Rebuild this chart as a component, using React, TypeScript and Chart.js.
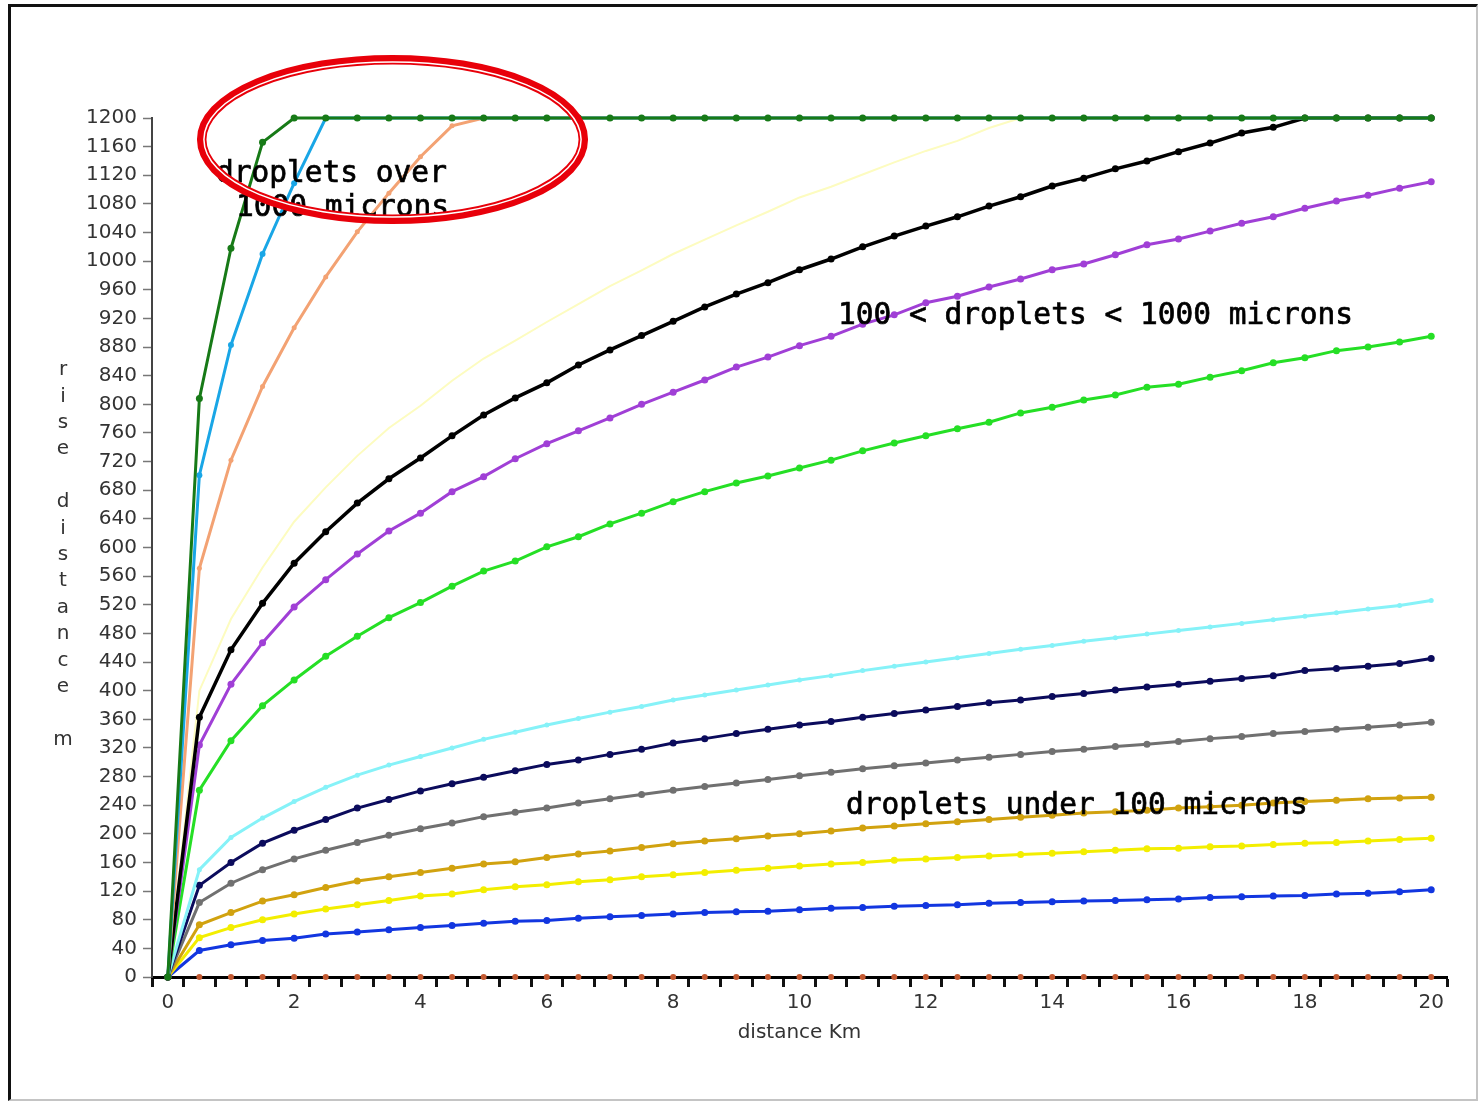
import React, { useEffect, useRef } from 'react';
import { Chart, registerables } from 'chart.js';

Chart.register(...registerables);

// distance along the x axis (km)
const distances = [
  0, 0.5, 1, 1.5, 2, 2.5, 3, 3.5, 4, 4.5, 5, 5.5, 6, 6.5, 7, 7.5, 8, 8.5, 9, 9.5, 10,
  10.5, 11, 11.5, 12, 12.5, 13, 13.5, 14, 14.5, 15, 15.5, 16, 16.5, 17, 17.5, 18, 18.5, 19, 19.5, 20,
];

const xLabelValues = [0, 2, 4, 6, 8, 10, 12, 14, 16, 18, 20];
const yTickValues = [
  0, 40, 80, 120, 160, 200, 240, 280, 320, 360, 400, 440, 480, 520, 560, 600, 640, 680, 720, 760,
  800, 840, 880, 920, 960, 1000, 1040, 1080, 1120, 1160, 1200,
];

// rise distance (m) per series
const darkGreen = [
  0, 808, 1018, 1166, 1200, 1200, 1200, 1200, 1200, 1200, 1200, 1200, 1200, 1200, 1200, 1200, 1200, 1200, 1200, 1200, 1200,
  1200, 1200, 1200, 1200, 1200, 1200, 1200, 1200, 1200, 1200, 1200, 1200, 1200, 1200, 1200, 1200, 1200, 1200, 1200, 1200,
];
const skyBlue = [
  0, 701, 883, 1010, 1109, 1200, 1200, 1200, 1200, 1200, 1200, 1200, 1200, 1200, 1200, 1200, 1200, 1200, 1200, 1200, 1200,
  1200, 1200, 1200, 1200, 1200, 1200, 1200, 1200, 1200, 1200, 1200, 1200, 1200, 1200, 1200, 1200, 1200, 1200, 1200, 1200,
];
const peach = [
  0, 571, 722, 825, 907, 978, 1041, 1095, 1146, 1189, 1200, 1200, 1200, 1200, 1200, 1200, 1200, 1200, 1200, 1200, 1200,
  1200, 1200, 1200, 1200, 1200, 1200, 1200, 1200, 1200, 1200, 1200, 1200, 1200, 1200, 1200, 1200, 1200, 1200, 1200, 1200,
];
const paleYellow = [
  0, 400, 500, 572, 636, 684, 728, 767, 798, 833, 864, 889, 915, 940, 965, 987, 1010, 1030, 1050, 1069, 1089,
  1104, 1121, 1138, 1154, 1168, 1186, 1200, 1200, 1200, 1200, 1200, 1200, 1200, 1200, 1200, 1200, 1200, 1200, 1200, 1200,
];
const black = [
  0, 363, 457, 522, 578, 622, 662, 696, 725, 756, 785, 809, 830, 855, 876, 896, 916, 936, 954, 970, 988,
  1003, 1020, 1035, 1049, 1062, 1077, 1090, 1105, 1116, 1129, 1140, 1153, 1165, 1179, 1187, 1200, 1200, 1200, 1200, 1200,
];
const purple = [
  0, 324, 409, 467, 517, 555, 591, 623, 648, 678, 699, 724, 745, 763, 781, 800, 817, 834, 852, 866, 882,
  895, 912, 925, 942, 951, 964, 975, 988, 996, 1009, 1023, 1031, 1042, 1053, 1062, 1074, 1084, 1092, 1102, 1111,
];
const brightGreen = [
  0, 261, 330, 379, 415, 448, 476, 502, 523, 546, 567, 581, 601, 615, 633, 648, 664, 678, 690, 700, 711,
  722, 735, 746, 756, 766, 775, 788, 796, 806, 813, 824, 828, 838, 847, 858, 865, 875, 880, 887, 895,
];
const lightCyan = [
  0, 150, 195, 222, 245, 265, 282, 296, 308, 320, 332, 342, 352, 361, 370, 378, 387, 394, 401, 408, 415,
  421, 428, 434, 440, 446, 452, 458, 463, 469, 474, 479, 484, 489, 494, 499, 504, 509, 514, 519, 526,
];
const navy = [
  0, 128, 160, 187, 205, 220, 236, 248, 260, 270, 279, 288, 297, 303, 311, 318, 327, 333, 340, 346, 352,
  357, 363, 368, 373, 378, 383, 387, 392, 396, 401, 405, 409, 413, 417, 421, 428, 431, 434, 438, 445,
];
const gray = [
  0, 104, 131, 150, 165, 177, 188, 198, 207, 215, 224, 230, 236, 243, 249, 255, 261, 266, 271, 276, 281,
  286, 291, 295, 299, 303, 307, 311, 315, 318, 322, 325, 329, 333, 336, 340, 343, 346, 349, 352, 356,
];
const goldenrod = [
  0, 73, 90, 106, 115, 125, 134, 140, 146, 152, 158, 161, 167, 172, 176, 181, 186, 190, 193, 197, 200,
  204, 208, 211, 214, 217, 220, 223, 226, 229, 231, 233, 236, 238, 240, 243, 245, 247, 249, 250, 251,
];
const yellow = [
  0, 55, 69, 80, 88, 95, 101, 107, 113, 116, 122, 126, 129, 133, 136, 140, 143, 146, 149, 152, 155,
  158, 160, 163, 165, 167, 169, 171, 173, 175, 177, 179, 180, 182, 183, 185, 187, 188, 190, 192, 194,
];
const blue = [
  0, 37, 45, 51, 54, 60, 63, 66, 69, 72, 75, 78, 79, 82, 84, 86, 88, 90, 91, 92, 94,
  96, 97, 99, 100, 101, 103, 104, 105, 106, 107, 108, 109, 111, 112, 113, 114, 116, 117, 119, 122,
];
const zeroLine = [
  0, 0, 0, 0, 0, 0, 0, 0, 0, 0, 0, 0, 0, 0, 0, 0, 0, 0, 0, 0, 0,
  0, 0, 0, 0, 0, 0, 0, 0, 0, 0, 0, 0, 0, 0, 0, 0, 0, 0, 0, 0,
];

const yTitleChars = ['r', 'i', 's', 'e', '', 'd', 'i', 's', 't', 'a', 'n', 'c', 'e', '', 'm'];

const annotations = [
  { text: 'droplets over', x: 208, y: 178 },
  { text: '1000 microns', x: 228, y: 212 },
  { text: '100 < droplets < 1000 microns', x: 830, y: 320 },
  { text: 'droplets under 100 microns', x: 838, y: 810 },
];

const SANS = "'DejaVu Sans', 'Open Sans', sans-serif";
const MONO = "'DejaVu Sans Mono', 'Liberation Mono', monospace";

function series(label: string, values: number[], color: string, width: number, radius: number) {
  return {
    label,
    data: values.map((v, i) => ({ x: distances[i], y: v })),
    borderColor: color,
    backgroundColor: color,
    pointBackgroundColor: color,
    pointBorderColor: color,
    pointBorderWidth: 0,
    pointRadius: radius,
    borderWidth: width,
    tension: 0,
    clip: false as any,
  };
}

const overlayPlugin = {
  id: 'overlay',
  afterDraw(chart: any) {
    const ctx = chart.ctx as CanvasRenderingContext2D;
    ctx.save();
    // stacked y-axis title
    ctx.font = `20px ${SANS}`;
    ctx.fillStyle = '#333';
    ctx.textAlign = 'center';
    ctx.textBaseline = 'middle';
    yTitleChars.forEach((ch, i) => {
      if (ch) ctx.fillText(ch, 55, 366 + i * 26.4);
    });
    // text annotations
    ctx.font = `29.5px ${MONO}`;
    ctx.fillStyle = '#000';
    ctx.strokeStyle = '#000';
    ctx.lineWidth = 0.7;
    ctx.textAlign = 'left';
    ctx.textBaseline = 'alphabetic';
    annotations.forEach((a) => {
      ctx.fillText(a.text, a.x, a.y);
      ctx.strokeText(a.text, a.x, a.y);
    });
    // red double ellipse
    const cx = 384.5;
    const cy = 135.5;
    ctx.beginPath();
    ctx.ellipse(cx, cy, 190.8, 79.8, 0, 0, Math.PI * 2);
    ctx.strokeStyle = '#e8000a';
    ctx.lineWidth = 9.5;
    ctx.stroke();
    ctx.beginPath();
    ctx.ellipse(cx, cy, 188.6, 77.6, 0, 0, Math.PI * 2);
    ctx.strokeStyle = '#ffffff';
    ctx.lineWidth = 1.5;
    ctx.stroke();
    ctx.restore();
  },
};

export default function App() {
  const canvasRef = useRef<HTMLCanvasElement | null>(null);

  useEffect(() => {
    if (!canvasRef.current) return;
    const chart = new Chart(canvasRef.current, {
      type: 'line',
      data: {
        datasets: [
          series('dark green', darkGreen, '#177a17', 3, 3.5),
          series('zero', zeroLine, '#c45a32', 0, 3),
          series('sky blue', skyBlue, '#19a6e6', 3, 3),
          series('peach', peach, '#f3a273', 3, 2.5),
          series('black', black, '#000000', 3.5, 3.5),
          series('purple', purple, '#a03fd6', 3, 3.5),
          series('bright green', brightGreen, '#25df25', 3, 3.5),
          series('light cyan', lightCyan, '#86f2f8', 3, 2.5),
          series('navy', navy, '#0b0b5c', 3, 3.5),
          series('gray', gray, '#707070', 3, 3.5),
          series('goldenrod', goldenrod, '#d1a20f', 3, 3.5),
          series('yellow', yellow, '#f3ee00', 3, 3.5),
          series('blue', blue, '#1236e0', 3, 3.5),
          series('pale yellow', paleYellow, '#fdfcc0', 2, 0),
        ],
      },
      options: {
        responsive: false,
        maintainAspectRatio: false,
        animation: false,
        layout: { padding: { left: 0, top: 114, right: 31, bottom: 0 } },
        plugins: {
          legend: { display: false },
          tooltip: { enabled: false },
        },
        scales: {
          x: {
            type: 'linear',
            min: -0.25,
            max: 20.25,
            z: -1,
            afterBuildTicks: (scale: any) => {
              const t: any[] = [];
              for (let v = -0.25; v <= 20.25 + 1e-9; v += 0.25) t.push({ value: v });
              scale.ticks = t;
            },
            afterFit: (scale: any) => {
              scale.height = 124;
            },
            ticks: {
              autoSkip: false,
              maxRotation: 0,
              minRotation: 0,
              padding: 4,
              color: '#333',
              font: { family: SANS, size: 20 },
              callback: (v: any) => (xLabelValues.includes(Number(v)) ? String(v) : ''),
            },
            grid: {
              drawOnChartArea: false,
              drawTicks: true,
              tickLength: 10,
              tickWidth: 3,
              tickColor: (c: any) => {
                const v = c.tick ? c.tick.value : 0;
                const k = (v + 0.25) / 0.5;
                return Math.abs(k - Math.round(k)) < 1e-6 ? '#111' : 'rgba(0,0,0,0)';
              },
            },
            border: { display: true, color: '#000', width: 3 },
            title: {
              display: true,
              text: 'distance Km',
              color: '#333',
              font: { family: SANS, size: 20 },
              padding: { top: 0, bottom: 56 },
            },
          },
          y: {
            type: 'linear',
            min: 0,
            max: 1200,
            z: -1,
            afterBuildTicks: (scale: any) => {
              scale.ticks = yTickValues.map((v) => ({ value: v }));
            },
            afterFit: (scale: any) => {
              scale.width = 144;
            },
            ticks: {
              autoSkip: false,
              padding: 6,
              color: '#333',
              font: { family: SANS, size: 20 },
              callback: (v: any) => String(v),
            },
            grid: {
              drawOnChartArea: false,
              drawTicks: true,
              tickLength: 9,
              tickWidth: 1.5,
              tickColor: '#777',
            },
            border: { display: true, color: '#444', width: 2 },
          },
        },
      } as any,
      plugins: [overlayPlugin],
    });
    return () => chart.destroy();
  }, []);

  return (
    <div style={{ position: 'absolute', left: 8, top: 4, width: 1470, height: 1097 }}>
      <canvas
        ref={canvasRef}
        width={1470}
        height={1097}
        style={{ position: 'absolute', left: 0, top: 0, width: 1470, height: 1097 }}
      />
      <div
        style={{
          position: 'absolute',
          left: 0,
          top: 0,
          width: 1470,
          height: 1097,
          boxSizing: 'border-box',
          borderLeft: '3px solid #111',
          borderTop: '3px solid #111',
          borderRight: '2px solid #c4c4c4',
          borderBottom: '2px solid #c4c4c4',
          pointerEvents: 'none',
        }}
      />
    </div>
  );
}
